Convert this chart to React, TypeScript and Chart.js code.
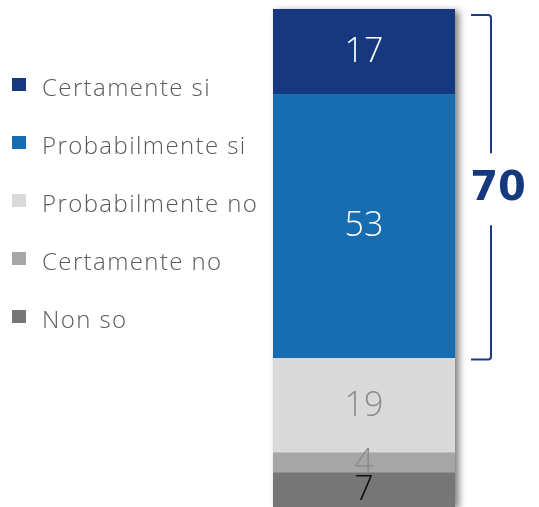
import React, { useEffect, useRef } from "react";
import { Chart, registerables } from "chart.js";

Chart.register(...registerables);

const categories = ["Totale"];
const seriesLabels = ["Certamente si", "Probabilmente si", "Probabilmente no", "Certamente no", "Non so"];
const seriesValues = [17, 53, 19, 4, 7];
const seriesColors = ["#15387F", "#176DB0", "#D9D9D9", "#A6A6A6", "#767676"];
const valueLabelColors = ["#FFFFFF", "#FFFFFF", "#8C8C8C", "#8C8C8C", "#111111"];
const bracketSeries = [0, 1];

const FONT = "'Open Sans', Lato, sans-serif";

const shadowPlugin = {
  id: "barShadow",
  beforeDatasetsDraw(chart: any) {
    const ctx = chart.ctx;
    const first = chart.getDatasetMeta(0).data[0];
    const last = chart.getDatasetMeta(chart.data.datasets.length - 1).data[0];
    if (!first || !last) return;
    const left = first.x - first.width / 2;
    const right = first.x + first.width / 2;
    const top = Math.min(first.y, first.base);
    const bottom = Math.max(last.y, last.base);
    ctx.save();
    ctx.shadowColor = "rgba(0,0,0,0.5)";
    ctx.shadowBlur = 7;
    ctx.shadowOffsetX = 4;
    ctx.shadowOffsetY = 2;
    ctx.fillStyle = "#ffffff";
    ctx.fillRect(left, top, right - left, bottom - top);
    ctx.restore();
  },
};

const overlayPlugin = {
  id: "overlay",
  afterDatasetsDraw(chart: any) {
    const ctx = chart.ctx;
    const ys = chart.scales.y;
    ctx.save();
    // value labels
    chart.data.datasets.forEach((ds: any, i: number) => {
      const el = chart.getDatasetMeta(i).data[0];
      if (!el) return;
      const cy = (el.y + el.base) / 2;
      ctx.font = `300 34px ${FONT}`;
      ctx.fillStyle = valueLabelColors[i];
      ctx.textAlign = "center";
      ctx.textBaseline = "middle";
      ctx.fillText(String(ds.data[0]), el.x, cy + 1);
    });
    // legend
    chart.data.datasets.forEach((ds: any, i: number) => {
      const cy = 85 + i * 58;
      ctx.fillStyle = ds.backgroundColor;
      ctx.fillRect(12, cy - 7, 14, 13);
      ctx.fillStyle = "#595959";
      ctx.font = `300 24px ${FONT}`;
      (ctx as any).letterSpacing = "1.4px";
      ctx.textAlign = "left";
      ctx.textBaseline = "alphabetic";
      ctx.fillText(ds.label, 42, cy + 11);
      (ctx as any).letterSpacing = "0px";
    });
    // bracket
    const total = bracketSeries.reduce((s, i) => s + chart.data.datasets[i].data[0], 0);
    const yTop = ys.getPixelForValue(0) + 6;
    const yBot = ys.getPixelForValue(total) + 2;
    const xIn = 471;
    const xOut = 491;
    const mid = (yTop + yBot) / 2;
    ctx.strokeStyle = "#1B3A86";
    ctx.lineWidth = 2;
    ctx.beginPath();
    ctx.moveTo(xIn, yTop);
    ctx.lineTo(xOut - 3, yTop);
    ctx.quadraticCurveTo(xOut, yTop, xOut, yTop + 3);
    ctx.lineTo(xOut, mid - 34);
    ctx.moveTo(xOut, mid + 38);
    ctx.lineTo(xOut, yBot - 3);
    ctx.quadraticCurveTo(xOut, yBot, xOut - 3, yBot);
    ctx.lineTo(xIn, yBot);
    ctx.stroke();
    ctx.fillStyle = "#15387F";
    ctx.font = `bold 40px 'DejaVu Sans', sans-serif`;
    ctx.textAlign = "center";
    ctx.textBaseline = "middle";
    ctx.fillText(String(total), 498, mid + 2);
    ctx.restore();
  },
};

export default function App() {
  const ref = useRef<HTMLCanvasElement>(null);
  useEffect(() => {
    if (!ref.current) return;
    const chart = new Chart(ref.current, {
      type: "bar",
      data: {
        labels: categories,
        datasets: seriesLabels.map((label, i) => ({
          label,
          data: [seriesValues[i]],
          backgroundColor: seriesColors[i],
          borderWidth: 0,
          barPercentage: 1,
          categoryPercentage: 1,
        })),
      },
      options: {
        responsive: false,
        animation: false,
        layout: { padding: { left: 273, right: 84, top: 9, bottom: 0 } },
        plugins: { legend: { display: false }, tooltip: { enabled: false } },
        scales: {
          x: { display: false, stacked: true },
          y: { display: false, stacked: true, min: 0, max: 100, reverse: true },
        },
      },
      plugins: [shadowPlugin, overlayPlugin],
    });
    return () => chart.destroy();
  }, []);
  return (
    <div style={{ position: "fixed", left: 0, top: 0, width: 539, height: 507, background: "#fff" }}>
      <canvas ref={ref} width={539} height={507} style={{ display: "block" }} />
    </div>
  );
}
